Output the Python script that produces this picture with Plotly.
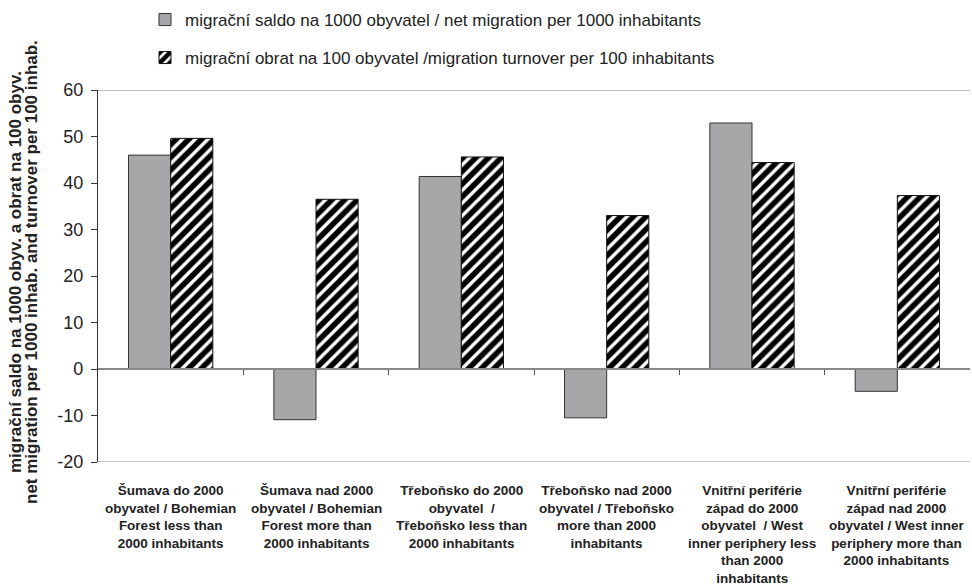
import plotly.graph_objects as go

categories = [
    "Šumava do 2000<br>obyvatel / Bohemian<br>Forest less than<br>2000 inhabitants",
    "Šumava nad 2000<br>obyvatel / Bohemian<br>Forest more than<br>2000 inhabitants",
    "Třeboňsko do 2000<br>obyvatel  /<br>Třeboňsko less than<br>2000 inhabitants",
    "Třeboňsko nad 2000<br>obyvatel / Třeboňsko<br>more than 2000<br>inhabitants",
    "Vnitřní periférie<br>západ do 2000<br>obyvatel  / West<br>inner periphery less<br>than 2000<br>inhabitants",
    "Vnitřní periférie<br>západ nad 2000<br>obyvatel / West inner<br>periphery more than<br>2000 inhabitants",
]
net_migration = [46.0, -10.9, 41.4, -10.5, 52.9, -4.8]
turnover = [49.6, 36.5, 45.6, 33.0, 44.4, 37.3]
series_names = [
    "migrační saldo na 1000 obyvatel / net migration per 1000 inhabitants",
    "migrační obrat na 100 obyvatel /migration turnover per 100 inhabitants",
]
y_ticks = [60, 50, 40, 30, 20, 10, 0, -10, -20]
y_tick_labels = ["60", "50", "40", "30", "20", "10", "0", "-10", "-20"]
y_title_lines = [
    "migrační saldo na 1000 obyv. a obrat na 100 obyv.",
    "net migration per 1000 inhab. and turnover per 100 inhab.",
]

FONT = "Liberation Sans, Arial, sans-serif"
xs = list(range(len(categories)))

fig = go.Figure()
fig.add_trace(go.Bar(
    x=xs, y=net_migration, name=series_names[0],
    marker=dict(color="#A7A7AA", line=dict(color="#333333", width=1)),
    legend="legend", showlegend=True,
))
fig.add_trace(go.Bar(
    x=xs, y=turnover, name=series_names[1],
    marker=dict(color="white", line=dict(color="#111111", width=1),
                pattern=dict(shape="/", fgcolor="black", bgcolor="white",
                             fgopacity=1, size=9, solidity=0.62)),
    legend="legend2", showlegend=True,
))

W, H = 972, 587
L, R, T, B = 98, 2, 90, 125
pw = W - L - R
ph = H - T - B

def px_x(p):
    return (p - L) / pw

def px_y(p):
    return (H - B - p) / ph

annotations = []
for i, c in enumerate(categories):
    annotations.append(dict(
        x=i, y=px_y(481), xref="x", yref="paper", text="<b>" + c + "</b>",
        showarrow=False, yanchor="top", xanchor="center",
        font=dict(family=FONT, size=13.5, color="#222222"),
    ))
annotations.append(dict(
    x=px_x(15), y=px_y(272), xref="paper", yref="paper",
    text="<b>" + y_title_lines[0] + "</b>", textangle=-90, showarrow=False,
    font=dict(family=FONT, size=17, color="#222222"), xanchor="center", yanchor="middle",
))
annotations.append(dict(
    x=px_x(31), y=px_y(272), xref="paper", yref="paper",
    text="<b>" + y_title_lines[1] + "</b>", textangle=-90, showarrow=False,
    font=dict(family=FONT, size=17, color="#222222"), xanchor="center", yanchor="middle",
))

shapes = [
    dict(type="line", xref="paper", yref="y", x0=0, x1=1, y0=60, y1=60,
         line=dict(color="#A0A0A0", width=1.5)),
    dict(type="line", xref="paper", yref="y", x0=0, x1=1, y0=-20, y1=-20,
         line=dict(color="#B0B0B0", width=1.5)),
]

legend_common = dict(
    orientation="h", bgcolor="rgba(0,0,0,0)", borderwidth=0,
    font=dict(family=FONT, size=17, color="#222222"),
    xanchor="left", yanchor="middle", itemwidth=30,
    xref="container", yref="container", visible=True,
)

fig.update_layout(
    width=W, height=H,
    showlegend=True,
    margin=dict(l=L, r=R, t=T, b=B, autoexpand=False),
    plot_bgcolor="white", paper_bgcolor="white",
    barmode="group", bargap=0.42, bargroupgap=0,
    font=dict(family=FONT),
    legend=dict(x=145 / W, y=1 - 20 / H, **legend_common),
    legend2=dict(x=145 / W, y=1 - 58 / H, **legend_common),
    annotations=annotations,
    shapes=shapes,
    xaxis=dict(
        range=[-0.5, len(categories) - 0.5],
        tickmode="array", tickvals=[i + 0.5 for i in range(len(categories) - 1)],
        showticklabels=False, ticks="outside", ticklen=5, tickcolor="#555555",
        showline=True, linecolor="#888888", linewidth=1.5,
        anchor="free", position=px_y(369), showgrid=False, zeroline=False,
    ),
    yaxis=dict(
        range=[-20, 60], tickmode="array", tickvals=y_ticks, ticktext=y_tick_labels,
        ticks="outside", ticklen=6, tickcolor="#333333", ticklabelstandoff=4,
        showline=True, linecolor="#333333", linewidth=1.2,
        showgrid=False, zeroline=False,
        tickfont=dict(family=FONT, size=18, color="#222222"),
    ),
)

fig.write_html("out.html", config={"displayModeBar": False},
               post_script="document.body.style.margin='0';")
